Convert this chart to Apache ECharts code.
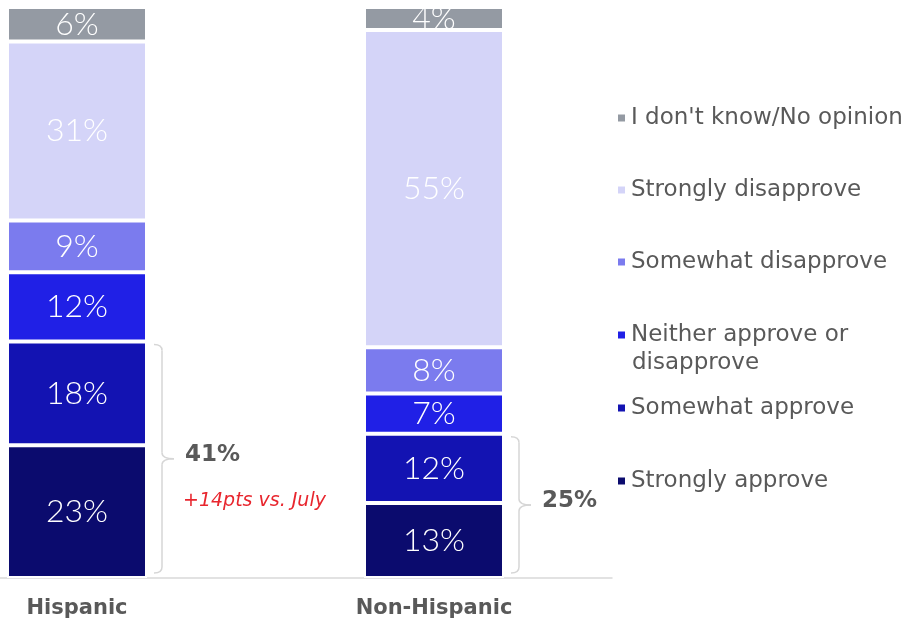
<!DOCTYPE html>
<html>
<head>
<meta charset="utf-8">
<script src="https://cdn.jsdelivr.net/npm/echarts@6/dist/echarts.min.js"></script>
<style>
  html, body { margin: 0; padding: 0; background: #fff; }
  #chart { width: 913px; height: 621px; }
</style>
</head>
<body>
<div id="chart"></div>
<script>
// Groups on the x axis
const categories = ['Hispanic', 'Non-Hispanic'];

// Response shares (%), bottom of the stack first
const stronglyApprove     = [23, 13];
const somewhatApprove     = [18, 12];
const neitherApprove      = [12, 7];
const somewhatDisapprove  = [9, 8];
const stronglyDisapprove  = [31, 55];
const dontKnow            = [6, 4];

const seriesNames = [
  'Strongly approve',
  'Somewhat approve',
  'Neither approve or disapprove',
  'Somewhat disapprove',
  'Strongly disapprove',
  "I don't know/No opinion"
];
const seriesValues = [stronglyApprove, somewhatApprove, neitherApprove,
                      somewhatDisapprove, stronglyDisapprove, dontKnow];
const seriesColors = ['#0b0b6e', '#1313b2', '#2020e6', '#7b7bee', '#d4d4f8', '#949aa3'];

// Side note next to the first group's approval bracket
const changeNote = '+14pts vs. July';

const TEXT_GRAY = '#595959';
const FONT = '"DejaVu Sans", sans-serif';
const LABEL_FONT = 'Lato, "DejaVu Sans", sans-serif';

const chart = echarts.init(document.getElementById('chart'), null, { renderer: 'canvas' });

const series = seriesNames.map((name, i) => ({
  name,
  type: 'bar',
  stack: 'total',
  barWidth: 140,
  clip: false,
  data: seriesValues[i],
  itemStyle: { color: seriesColors[i], borderColor: '#ffffff', borderWidth: 2 },
  label: {
    show: true,
    position: 'inside',
    formatter: '{c}%',
    color: '#ffffff',
    fontFamily: LABEL_FONT,
    fontWeight: 300,
    fontSize: 32
  },
  emphasis: { disabled: true }
}));

// Legend, listed top to bottom; each entry gets its own row
const legendRows = [
  { name: "I don't know/No opinion", y: 116 },
  { name: 'Strongly disapprove', y: 188 },
  { name: 'Somewhat disapprove', y: 260 },
  { name: 'Neither approve or disapprove', y: 333, text: 'Neither approve or' },
  { name: 'Somewhat approve', y: 406 },
  { name: 'Strongly approve', y: 479 }
];

const legends = legendRows.map(r => ({
  data: [r.name],
  left: 611,
  top: r.y - 16,
  icon: 'rect',
  itemWidth: 9,
  itemHeight: 9,
  selectedMode: false,
  formatter: () => r.text || r.name,
  textStyle: { color: TEXT_GRAY, fontFamily: FONT, fontSize: 23, lineHeight: 26 }
}));

chart.setOption({
  animation: false,
  grid: [
    // bars sit on the two ticks of this grid
    { left: 77, width: 357, top: 7, bottom: 43 },
    // full-width baseline
    { left: 0, width: 612, top: 7, bottom: 43 }
  ],
  legend: legends,
  xAxis: [
    {
      type: 'category',
      gridIndex: 0,
      boundaryGap: false,
      data: categories,
      axisLine: { show: false },
      axisTick: { show: false },
      axisLabel: {
        color: TEXT_GRAY,
        fontFamily: FONT,
        fontWeight: 'bold',
        fontSize: 21,
        margin: 20
      }
    },
    {
      type: 'value',
      gridIndex: 1,
      axisLine: { show: true, lineStyle: { color: '#d9d9d9', width: 1.5 } },
      axisTick: { show: false },
      axisLabel: { show: false },
      splitLine: { show: false }
    }
  ],
  yAxis: [
    { type: 'value', gridIndex: 0, min: 0, max: 99, show: false, splitLine: { show: false } },
    { type: 'value', gridIndex: 1, show: false, splitLine: { show: false } }
  ],
  series
});

// Brackets showing total approval (strongly + somewhat) beside each bar
function drawBrackets() {
  const elements = [];
  const stroke = { stroke: '#d6d6d6', lineWidth: 1.5, fill: null };
  categories.forEach((cat, ci) => {
    const total = stronglyApprove[ci] + somewhatApprove[ci];
    const topPt = chart.convertToPixel({ xAxisIndex: 0, yAxisIndex: 0 }, [ci, total]);
    const basePt = chart.convertToPixel({ xAxisIndex: 0, yAxisIndex: 0 }, [ci, 0]);
    const right = topPt[0] + 70;
    const x0 = right + 7, x1 = right + 15, x2 = right + 27;
    const yT = topPt[1] + 3, yB = basePt[1] - 5, yM = (yT + yB) / 2;
    const r = 6;
    const curve = (ax, ay, cx, cy, bx, by) => ({
      type: 'bezierCurve', silent: true,
      shape: { x1: ax, y1: ay, cpx1: cx, cpy1: cy, x2: bx, y2: by },
      style: stroke
    });
    const line = (ax, ay, bx, by) => ({
      type: 'line', silent: true,
      shape: { x1: ax, y1: ay, x2: bx, y2: by },
      style: stroke
    });
    elements.push(curve(x0, yT, x1, yT, x1, yT + r));
    elements.push(line(x1, yT + r, x1, yM - r));
    elements.push(curve(x1, yM - r, x1, yM, x2, yM));
    elements.push(curve(x2, yM, x1, yM, x1, yM + r));
    elements.push(line(x1, yM + r, x1, yB - r));
    elements.push(curve(x1, yB - r, x1, yB, x0, yB));
    elements.push({
      type: 'text',
      x: x2 + 11,
      y: yM - 4,
      silent: true,
      style: {
        text: total + '%',
        fill: TEXT_GRAY,
        font: `bold 23px ${FONT}`,
        verticalAlign: 'middle'
      }
    });
    if (ci === 0) {
      elements.push({
        type: 'text',
        x: x2 + 9,
        y: yM + 42,
        silent: true,
        style: {
          text: changeNote,
          fill: '#e8262e',
          font: `italic 19px ${FONT}`,
          verticalAlign: 'middle'
        }
      });
    }
  });
  // Second line of the wrapped legend entry
  elements.push({
    type: 'text',
    x: 632,
    y: 363,
    silent: true,
    style: {
      text: 'disapprove',
      fill: TEXT_GRAY,
      font: `23px ${FONT}`,
      verticalAlign: 'middle'
    }
  });
  chart.setOption({ graphic: { elements } });
}
drawBrackets();
</script>
</body>
</html>
